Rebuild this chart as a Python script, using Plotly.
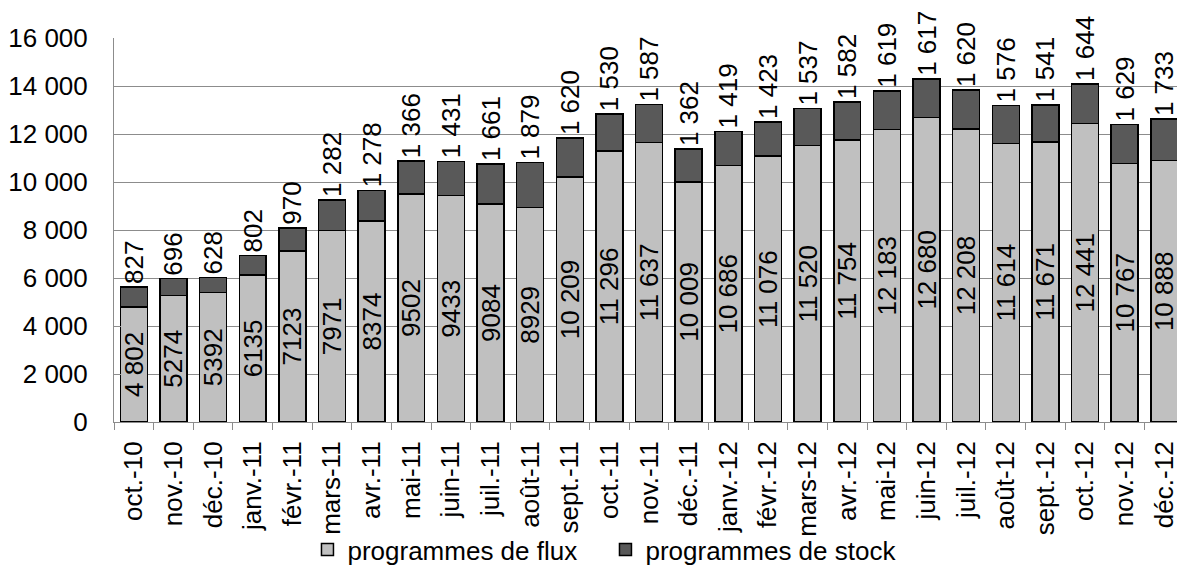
import plotly.graph_objects as go

categories = ["oct.-10", "nov.-10", "déc.-10", "janv.-11", "févr.-11", "mars-11", "avr.-11",
              "mai-11", "juin-11", "juil.-11", "août-11", "sept.-11", "oct.-11", "nov.-11",
              "déc.-11", "janv.-12", "févr.-12", "mars-12", "avr.-12", "mai-12", "juin-12",
              "juil.-12", "août-12", "sept.-12", "oct.-12", "nov.-12", "déc.-12"]
flux = [4802, 5274, 5392, 6135, 7123, 7971, 8374, 9502, 9433, 9084, 8929, 10209, 11296, 11637,
        10009, 10686, 11076, 11520, 11754, 12183, 12680, 12208, 11614, 11671, 12441, 10767, 10888]
stock = [827, 696, 628, 802, 970, 1282, 1278, 1366, 1431, 1661, 1879, 1620, 1530, 1587,
         1362, 1419, 1423, 1537, 1582, 1619, 1617, 1620, 1576, 1541, 1644, 1629, 1733]
flux_labels = ["4 802", "5274", "5392", "6135", "7123", "7971", "8374", "9502", "9433", "9084",
               "8929", "10 209", "11 296", "11 637", "10 009", "10 686", "11 076", "11 520",
               "11 754", "12 183", "12 680", "12 208", "11 614", "11 671", "12 441", "10 767", "10 888"]
stock_labels = ["827", "696", "628", "802", "970", "1 282", "1 278", "1 366", "1 431", "1 661",
                "1 879", "1 620", "1 530", "1 587", "1 362", "1 419", "1 423", "1 537", "1 582",
                "1 619", "1 617", "1 620", "1 576", "1 541", "1 644", "1 629", "1 733"]
y_ticks = [0, 2000, 4000, 6000, 8000, 10000, 12000, 14000, 16000]
y_tick_labels = ["0", "2 000", "4 000", "6 000", "8 000", "10 000", "12 000", "14 000", "16 000"]

FONT = "Liberation Sans, Arial, sans-serif"
FS = 26
GRID = "#8c8c8c"

fig = go.Figure()
fig.add_trace(go.Bar(
    x=categories, y=flux, name="programmes de flux",
    marker=dict(color="#c0c0c0", line=dict(color="black", width=1.5)),
    text=flux_labels, textposition="inside", insidetextanchor="middle",
    textangle=-90, constraintext="none",
    textfont=dict(family=FONT, size=FS, color="black"),
    hoverinfo="skip",
))
fig.add_trace(go.Bar(
    x=categories, y=stock, name="programmes de stock",
    marker=dict(color="#595959", line=dict(color="black", width=1.5)),
    text=stock_labels, textposition="outside",
    textangle=-90, constraintext="none", cliponaxis=False,
    textfont=dict(family=FONT, size=FS, color="black"),
    hoverinfo="skip",
))

fig.update_layout(
    width=1177, height=568,
    barmode="stack", bargap=0.32,
    paper_bgcolor="white", plot_bgcolor="white",
    margin=dict(l=114, r=0, t=38, b=146, autoexpand=False),
    font=dict(family=FONT, size=FS, color="black"),
    showlegend=True,
    legend=dict(orientation="h", x=0.182, xanchor="left", y=-0.332, yanchor="middle",
                bgcolor="rgba(0,0,0,0)",
                font=dict(family=FONT, size=FS, color="black"),
                entrywidth=253, entrywidthmode="pixels", traceorder="normal"),
)
fig.update_xaxes(
    type="category", range=[-0.5, 26.32], automargin=False,
    tickangle=-90, tickson="boundaries", ticks="outside", ticklen=7, tickcolor=GRID,
    showline=True, linecolor=GRID, linewidth=1, showgrid=False,
    tickfont=dict(family=FONT, size=FS, color="black"), ticklabelstandoff=8,
)
fig.update_yaxes(
    range=[0, 16000], tickvals=y_ticks, ticktext=y_tick_labels, automargin=False,
    ticks="inside", ticklen=7, tickcolor=GRID,
    showline=True, linecolor=GRID, linewidth=1,
    showgrid=True, gridcolor=GRID, gridwidth=1, zeroline=False,
    tickfont=dict(family=FONT, size=FS, color="black"), ticklabelstandoff=20,
)

fig.write_html("out.html", config={"displayModeBar": False},
               post_script="document.body.style.margin='0';document.body.style.overflow='hidden';")
